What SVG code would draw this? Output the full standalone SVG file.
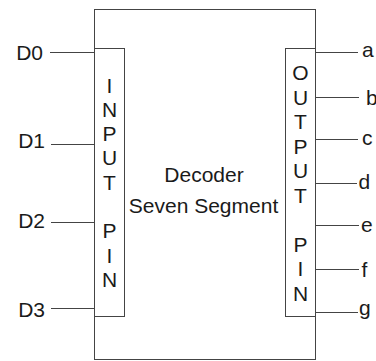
<svg xmlns="http://www.w3.org/2000/svg" width="376" height="361" viewBox="0 0 376 361">
<style>
.box{fill:#fff;stroke:#444;stroke-width:1}
.wire{stroke:#444;stroke-width:1;fill:none}
text{font-family:"Liberation Sans",Arial,sans-serif;font-size:21px;fill:#1a1a1a}
.pin{text-anchor:middle}
</style>
<rect width="376" height="361" fill="#fff"/>
<g id="decoder">
<rect class="box" x="94.5" y="9.5" width="221" height="350"/>
<text x="204" y="181.5" text-anchor="middle">Decoder</text>
<text x="203.5" y="213" text-anchor="middle">Seven Segment</text>
</g>
<g id="input-pin">
<rect class="box" x="94.5" y="48.5" width="30" height="268"/>
<text class="pin" x="109.5" y="92.5">I</text>
<text class="pin" x="109.5" y="116.8">N</text>
<text class="pin" x="109.5" y="141.1">P</text>
<text class="pin" x="109.5" y="165.4">U</text>
<text class="pin" x="109.5" y="189.7">T</text>
<text class="pin" x="109.5" y="238.3">P</text>
<text class="pin" x="109.5" y="262.6">I</text>
<text class="pin" x="109.5" y="286.9">N</text>
</g>
<g id="output-pin">
<rect class="box" x="285.5" y="48.5" width="30" height="268"/>
<text class="pin" x="300.5" y="80">O</text>
<text class="pin" x="300.5" y="104.5">U</text>
<text class="pin" x="300.5" y="129">T</text>
<text class="pin" x="300.5" y="153.5">P</text>
<text class="pin" x="300.5" y="178">U</text>
<text class="pin" x="300.5" y="202.5">T</text>
<text class="pin" x="300.5" y="251.5">P</text>
<text class="pin" x="300.5" y="276">I</text>
<text class="pin" x="300.5" y="300.5">N</text>
</g>
<g id="connectors">
<line class="wire" x1="50" y1="52.5" x2="94.5" y2="52.5"/>
<line class="wire" x1="51" y1="144.5" x2="94.5" y2="144.5"/>
<line class="wire" x1="51" y1="222.5" x2="94.5" y2="222.5"/>
<line class="wire" x1="51" y1="308.5" x2="94.5" y2="308.5"/>
<line class="wire" x1="315.5" y1="52.5" x2="358" y2="52.5"/>
<line class="wire" x1="315.5" y1="97.5" x2="359" y2="97.5"/>
<line class="wire" x1="315.5" y1="139.5" x2="358" y2="139.5"/>
<line class="wire" x1="315.5" y1="183.5" x2="357" y2="183.5"/>
<line class="wire" x1="315.5" y1="225.5" x2="359" y2="225.5"/>
<line class="wire" x1="315.5" y1="269.5" x2="359" y2="269.5"/>
<line class="wire" x1="315.5" y1="312.5" x2="358" y2="312.5"/>
</g>
<g id="labels">
<text x="43" y="60" text-anchor="end">D0</text>
<text x="45" y="148" text-anchor="end">D1</text>
<text x="45" y="228" text-anchor="end">D2</text>
<text x="45" y="317" text-anchor="end">D3</text>
<text x="362" y="57">a</text>
<text x="366" y="105">b</text>
<text x="362" y="145">c</text>
<text x="358.5" y="189">d</text>
<text x="361" y="232">e</text>
<text x="361.5" y="277">f</text>
<text x="359" y="315">g</text>
</g>
</svg>
